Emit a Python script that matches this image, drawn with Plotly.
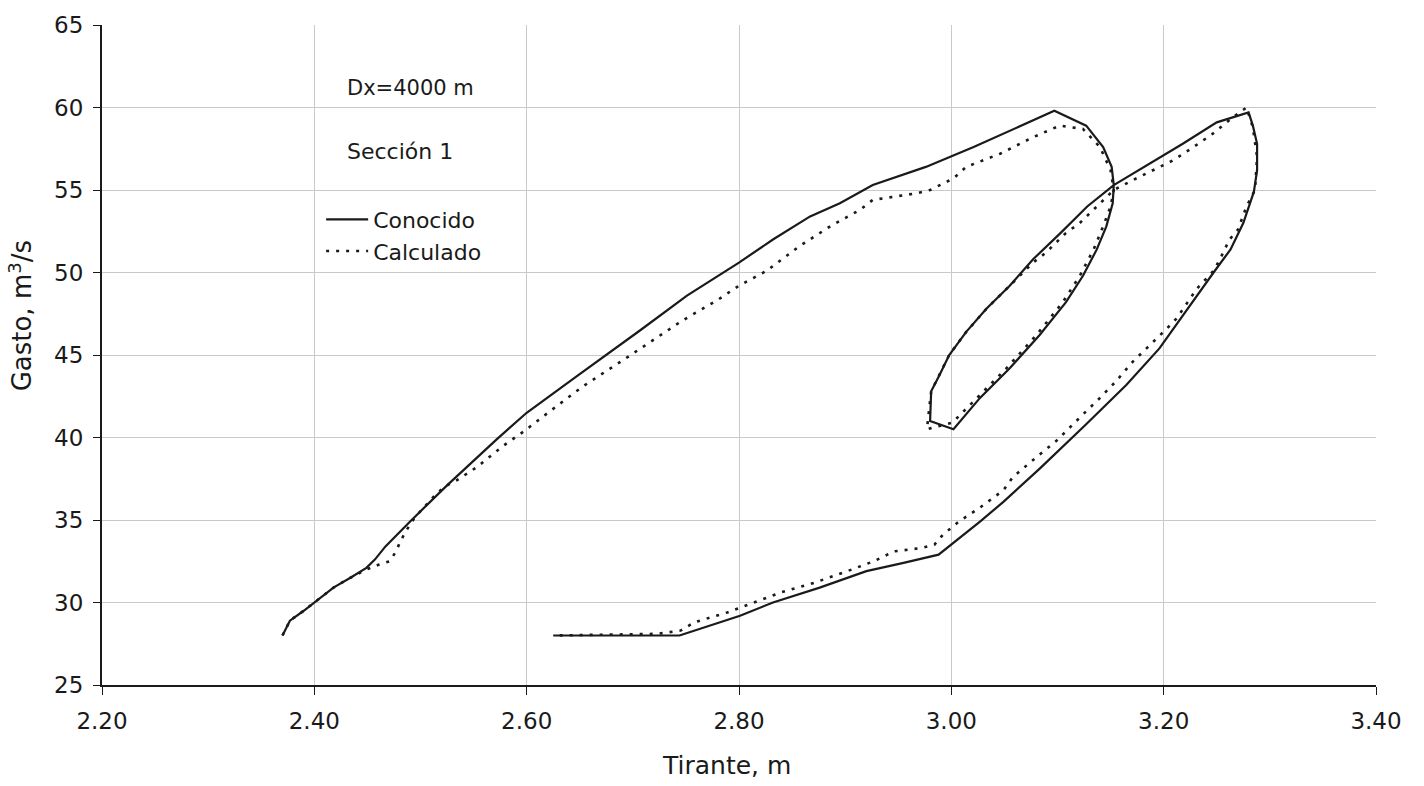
import plotly.graph_objects as go

# Conocido (solid)
conocido_x = [2.370, 2.377, 2.390, 2.400, 2.418, 2.434, 2.449, 2.457, 2.467, 2.490,
              2.525, 2.572, 2.600, 2.647, 2.675, 2.707, 2.751, 2.800, 2.832, 2.867,
              2.895, 2.926, 2.976, 3.021, 3.097, 3.127, 3.143, 3.151, 3.153, 3.152,
              3.146, 3.137, 3.124, 3.108, 3.083, 3.055, 3.027, 3.002, 2.980, 2.981,
              2.989, 2.998, 3.014, 3.033, 3.055, 3.077, 3.103, 3.128, 3.153, 3.187,
              3.218, 3.250, 3.275, 3.280, 3.284, 3.288, 3.288, 3.285, 3.275, 3.263,
              3.247, 3.225, 3.196, 3.165, 3.127, 3.083, 3.049, 3.027, 2.988, 2.955,
              2.920, 2.876, 2.832, 2.801, 2.769, 2.744, 2.625]
conocido_y = [28.0, 28.9, 29.5, 30.0, 30.9, 31.5, 32.1, 32.6, 33.4, 34.9,
              37.1, 39.9, 41.5, 43.7, 45.0, 46.5, 48.6, 50.6, 52.0, 53.4,
              54.2, 55.3, 56.4, 57.6, 59.8, 58.9, 57.6, 56.4, 55.3, 54.2,
              52.8, 51.4, 49.8, 48.2, 46.2, 44.2, 42.4, 40.5, 41.0, 42.8,
              43.8, 45.0, 46.4, 47.8, 49.2, 50.8, 52.4, 54.0, 55.3, 56.6,
              57.8, 59.1, 59.6, 59.7, 58.9, 57.8, 56.2, 54.9, 53.0, 51.4,
              50.0, 48.0, 45.4, 43.2, 40.8, 38.1, 36.1, 34.9, 32.9, 32.4,
              31.9, 30.9, 30.0, 29.2, 28.5, 28.0, 28.0]

# Calculado (dotted)
calculado_x = [2.370, 2.377, 2.390, 2.400, 2.418, 2.434, 2.449, 2.461, 2.471, 2.477,
               2.481, 2.487, 2.494, 2.515, 2.525, 2.534, 2.553, 2.578, 2.598, 2.616,
               2.638, 2.653, 2.691, 2.719, 2.747, 2.779, 2.800, 2.826, 2.857, 2.886,
               2.914, 2.926, 2.967, 2.980, 3.002, 3.014, 3.046, 3.077, 3.102, 3.124,
               3.140, 3.150, 3.153, 3.150, 3.143, 3.134, 3.121, 3.105, 3.080, 3.052,
               3.024, 3.001, 2.989, 2.977, 2.981, 2.989, 2.998, 3.014, 3.033, 3.055,
               3.077, 3.089, 3.108, 3.121, 3.140, 3.153, 3.171, 3.190, 3.209, 3.228,
               3.246, 3.265, 3.278, 3.284, 3.288, 3.286, 3.278, 3.270, 3.262, 3.253,
               3.247, 3.231, 3.212, 3.203, 3.187, 3.171, 3.155, 3.140, 3.124, 3.099,
               3.080, 3.058, 3.049, 3.028, 3.007, 2.992, 2.984, 2.972, 2.946, 2.927,
               2.902, 2.871, 2.839, 2.814, 2.789, 2.758, 2.745, 2.723, 2.625]
calculado_y = [28.0, 28.9, 29.5, 30.0, 30.9, 31.5, 32.0, 32.3, 32.5, 33.1,
               33.7, 34.4, 35.1, 36.6, 37.1, 37.4, 38.2, 39.5, 40.4, 41.3,
               42.4, 43.1, 44.7, 45.9, 47.1, 48.3, 49.2, 50.1, 51.6, 52.8,
               53.8, 54.4, 54.8, 55.0, 55.7, 56.4, 57.2, 58.2, 58.9, 58.7,
               57.6, 56.2, 55.0, 54.0, 52.8, 51.4, 49.8, 48.2, 46.2, 44.2,
               42.4, 40.9, 40.7, 40.5, 42.8, 43.8, 45.0, 46.4, 47.8, 49.2,
               50.6, 51.2, 52.4, 53.0, 54.2, 55.0, 55.6, 56.2, 56.8, 57.6,
               58.4, 59.4, 60.0, 58.8, 57.0, 55.0, 54.0, 52.6, 52.0, 50.8,
               50.1, 49.0, 47.2, 46.6, 45.6, 44.6, 43.4, 42.4, 41.4, 39.8,
               38.8, 37.6, 36.8, 35.8, 34.9, 34.1, 33.5, 33.3, 33.1, 32.5,
               31.9, 31.2, 30.6, 30.0, 29.4, 28.8, 28.3, 28.1, 28.0]

x_ticks = [2.20, 2.40, 2.60, 2.80, 3.00, 3.20, 3.40]
y_ticks = [25, 30, 35, 40, 45, 50, 55, 60, 65]

FONT = "DejaVu Sans, Arial, sans-serif"
INK = "#1a1a1a"

fig = go.Figure()
fig.add_trace(go.Scatter(x=conocido_x, y=conocido_y, mode="lines", name="Conocido",
                         line=dict(color=INK, width=2.2)))
fig.add_trace(go.Scatter(x=calculado_x, y=calculado_y, mode="lines", name="Calculado",
                         line=dict(color=INK, width=2.6, dash="3px,7px")))

fig.update_layout(
    width=1424, height=786,
    margin=dict(l=102, r=48, t=21, b=101),
    paper_bgcolor="white", plot_bgcolor="white",
    font=dict(family=FONT, size=22, color=INK),
    showlegend=True,
    legend=dict(x=0.172, y=0.737, xanchor="left", yanchor="top",
                bgcolor="rgba(0,0,0,0)", borderwidth=0,
                font=dict(size=22, family=FONT, color=INK),
                itemwidth=42),
    xaxis=dict(range=[2.20, 3.40], tickvals=x_ticks,
               ticktext=[f"{v:.2f}" for v in x_ticks],
               showgrid=True, gridcolor="#c9c9c9", gridwidth=1,
               showline=True, linecolor=INK, linewidth=2,
               ticks="outside", ticklen=8, tickcolor=INK, tickwidth=1,
               ticklabelstandoff=6,
               zeroline=False, tickfont=dict(size=23)),
    yaxis=dict(range=[25, 65], tickvals=y_ticks,
               showgrid=True, gridcolor="#c9c9c9", gridwidth=1,
               showline=True, linecolor=INK, linewidth=2,
               ticks="outside", ticklen=7, tickcolor=INK, tickwidth=1,
               ticklabelstandoff=5,
               zeroline=False, tickfont=dict(size=23)),
    annotations=[
        dict(text="Dx=4000 m", x=0.1907, y=0.904, xref="paper", yref="paper",
             xanchor="left", yanchor="middle", showarrow=False,
             font=dict(size=21, family=FONT, color=INK)),
        dict(text="Sección 1", x=0.1907, y=0.808, xref="paper", yref="paper",
             xanchor="left", yanchor="middle", showarrow=False,
             font=dict(size=22, family=FONT, color=INK)),
        dict(text="Tirante, m", x=0.49, y=-0.122, xref="paper", yref="paper",
             xanchor="center", yanchor="middle", showarrow=False,
             font=dict(size=25, family=FONT, color=INK)),
        dict(text="Gasto, m<sup>3</sup>/s", x=-0.0636, y=0.56, xref="paper", yref="paper",
             xanchor="center", yanchor="middle", showarrow=False, textangle=-90,
             font=dict(size=26, family=FONT, color=INK)),
    ],
)

fig.write_html("out.html")
